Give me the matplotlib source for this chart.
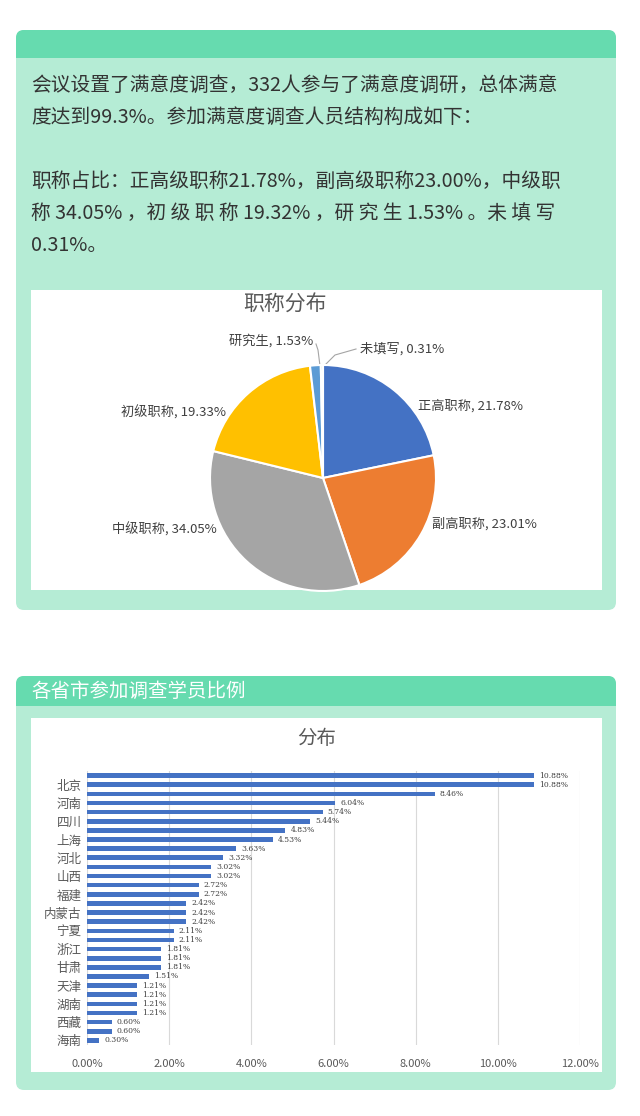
import matplotlib.pyplot as plt
from matplotlib.patches import FancyBboxPatch, Rectangle
from matplotlib.ticker import FuncFormatter

plt.rcParams['font.family'] = ['Noto Sans CJK SC', 'DejaVu Sans']

W, H = 640, 1116

# pie data
pie_labels = ['正高职称', '副高职称', '中级职称', '初级职称', '研究生', '未填写']
pie_values = [21.78, 23.01, 34.05, 19.33, 1.53, 0.31]
pie_colors = ['#4472c4', '#ed7d31', '#a5a5a5', '#ffc000', '#5b9bd5', '#70ad47']

# bar data (top to bottom)
bar_values = [10.88, 10.88, 8.46, 6.04, 5.74, 5.44, 4.83, 4.53, 3.63, 3.32,
              3.02, 3.02, 2.72, 2.72, 2.42, 2.42, 2.42, 2.11, 2.11, 1.81,
              1.81, 1.81, 1.51, 1.21, 1.21, 1.21, 1.21, 0.60, 0.60, 0.30]
shown_names = ['北京', '河南', '四川', '上海', '河北', '山西', '福建', '内蒙古',
               '宁夏', '浙江', '甘肃', '天津', '湖南', '西藏', '海南']
bar_names = []
for n in shown_names:
    bar_names += ['', n]

fig = plt.figure(figsize=(W / 100, H / 100), dpi=100)
bg = fig.add_axes([0, 0, 1, 1])
bg.set_xlim(0, W)
bg.set_ylim(H, 0)
bg.axis('off')


def panel(y0, y1, hh):
    bg.add_patch(FancyBboxPatch((16, y0), 600, y1 - y0, boxstyle='round,pad=0,rounding_size=8',
                                fc='#b5ecd5', ec='none'))
    bg.add_patch(FancyBboxPatch((16, y0), 600, hh, boxstyle='round,pad=0,rounding_size=8',
                                fc='#66dbaf', ec='none'))
    bg.add_patch(Rectangle((16, y0 + hh - 8), 600, 8, fc='#66dbaf', ec='none'))


panel(30, 610, 28)
panel(676, 1090, 30)

lines = [(85, '会议设置了满意度调查，332人参与了满意度调研，总体满意'),
         (117, '度达到99.3%。参加满意度调查人员结构构成如下：'),
         (181, '职称占比：正高级职称21.78%，副高级职称23.00%，中级职'),
         (213, '称 34.05% ，初 级 职 称 19.32% ，研 究 生 1.53% 。未 填 写'),
         (245, '0.31%。')]
for y, t in lines:
    bg.text(31, y, t, fontsize=14.2, color='#333333', va='center', ha='left')

bg.text(31, 691, '各省市参加调查学员比例', fontsize=14, color='white', va='center', ha='left')

bg.add_patch(Rectangle((31, 290), 571, 300, fc='white', ec='none'))
bg.add_patch(Rectangle((31, 718), 571, 354, fc='white', ec='none'))

# pie
cx, cy, r = 323, 478, 113
pax = fig.add_axes([(cx - r) / W, 1 - (cy + r) / H, 2 * r / W, 2 * r / H])
pax.pie(pie_values, colors=pie_colors, startangle=90, counterclock=False,
        wedgeprops=dict(edgecolor='white', linewidth=1.5))
pax.set_xlim(-1, 1)
pax.set_ylim(-1, 1)
pax.set_aspect('auto')
fig.text(285 / W, 1 - 305 / H, '职称分布', fontsize=15, color='#595959', ha='center', va='center')
lab_pos = [(418, 406, 'left'), (432, 524, 'left'), (217, 530, 'right'),
           (226, 413, 'right'), (313, 341, 'right'), (360, 349, 'left')]
for (x, y, ha), n, v in zip(lab_pos, pie_labels, pie_values):
    bg.text(x, y, f'{n}, {v:.2f}%', fontsize=9.5, color='#404040', ha=ha, va='center')
bg.plot([316, 318, 320], [344, 350, 366], color='#a5a5a5', lw=0.8)
bg.plot([356, 335, 324], [349, 355, 366], color='#a5a5a5', lw=0.8)

# bar chart
bx0, bx1, by0, by1 = 87, 580, 771, 1045
bax = fig.add_axes([bx0 / W, 1 - by1 / H, (bx1 - bx0) / W, (by1 - by0) / H])
ys = list(range(len(bar_values)))
bax.barh(ys, bar_values, height=0.5, color='#4472c4')
bax.set_ylim(len(bar_values) - 0.5, -0.5)
bax.set_xlim(0, 12)
bax.set_xticks(range(0, 13, 2))
bax.xaxis.set_major_formatter(FuncFormatter(lambda v, p: f'{v:.2f}%'))
bax.set_yticks(ys)
bax.set_yticklabels(bar_names, fontsize=9, color='#595959')
bax.tick_params(axis='x', labelsize=8, colors='#595959', length=0, pad=10)
bax.tick_params(axis='y', length=0, pad=4)
bax.grid(axis='x', color='#d9d9d9', lw=0.8)
bax.set_axisbelow(True)
for s in bax.spines.values():
    s.set_visible(False)
for y, v in zip(ys, bar_values):
    bax.text(v + 0.12, y, f'{v:.2f}%', fontsize=5.5, color='#404040', va='center', ha='left',
             family='DejaVu Serif')
fig.text(317 / W, 1 - 738 / H, '分布', fontsize=14, color='#595959', ha='center', va='center')

fig.savefig('out.png', dpi=100, facecolor='white')
